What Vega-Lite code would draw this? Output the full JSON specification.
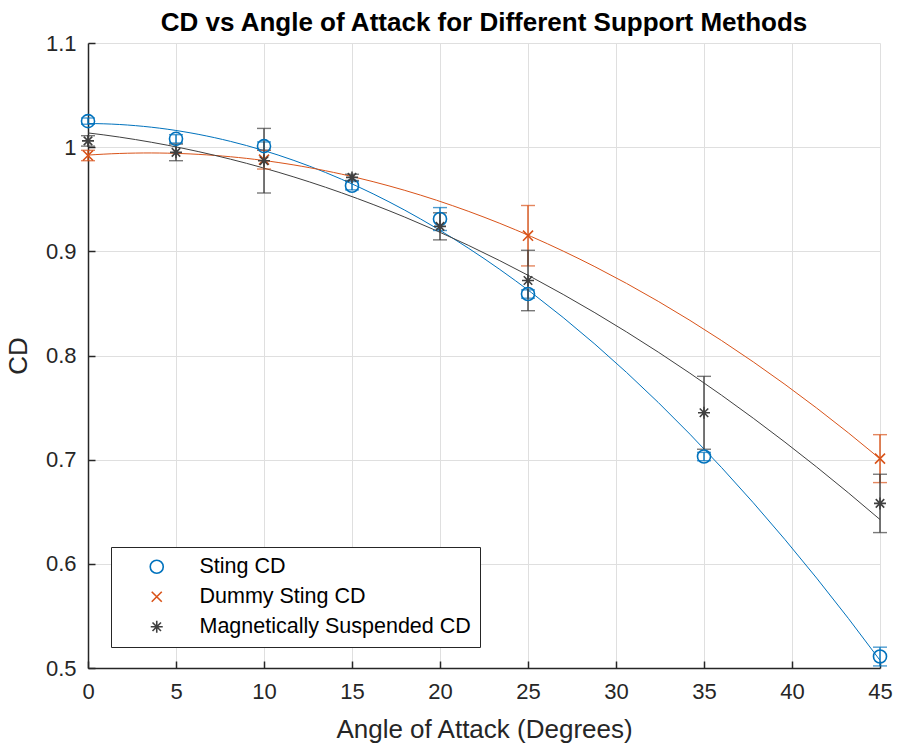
{
  "$schema": "https://vega.github.io/schema/vega-lite/v6.json",
  "width": 792,
  "height": 625,
  "autosize": {"type": "none"},
  "padding": {"left": 88, "top": 43, "right": 19, "bottom": 87},
  "background": "white",
  "title": {
    "text": "CD vs Angle of Attack for Different Support Methods",
    "font": "Liberation Sans",
    "fontSize": 26,
    "fontWeight": "bold",
    "color": "#000000",
    "offset": -4,
    "anchor": "middle"
  },
  "data": {
    "values": [
      {"series": "Sting CD", "aoa": 0, "cd": 1.025, "err": 0.003},
      {"series": "Sting CD", "aoa": 5, "cd": 1.008, "err": 0.004},
      {"series": "Sting CD", "aoa": 10, "cd": 1.001, "err": 0.004},
      {"series": "Sting CD", "aoa": 15, "cd": 0.963, "err": 0.004},
      {"series": "Sting CD", "aoa": 20, "cd": 0.931, "err": 0.011},
      {"series": "Sting CD", "aoa": 25, "cd": 0.859, "err": 0.004},
      {"series": "Sting CD", "aoa": 35, "cd": 0.703, "err": 0.004},
      {"series": "Sting CD", "aoa": 45, "cd": 0.511, "err": 0.009},
      {"series": "Dummy Sting CD", "aoa": 0, "cd": 0.992, "err": 0.005},
      {"series": "Dummy Sting CD", "aoa": 10, "cd": 0.988, "err": 0.009},
      {"series": "Dummy Sting CD", "aoa": 25, "cd": 0.915, "err": 0.029},
      {"series": "Dummy Sting CD", "aoa": 45, "cd": 0.701, "err": 0.023},
      {"series": "Magnetically Suspended CD", "aoa": 0, "cd": 1.006, "err": 0.005},
      {"series": "Magnetically Suspended CD", "aoa": 5, "cd": 0.995, "err": 0.008},
      {"series": "Magnetically Suspended CD", "aoa": 10, "cd": 0.987, "err": 0.031},
      {"series": "Magnetically Suspended CD", "aoa": 15, "cd": 0.971, "err": 0.003},
      {"series": "Magnetically Suspended CD", "aoa": 20, "cd": 0.924, "err": 0.013},
      {"series": "Magnetically Suspended CD", "aoa": 25, "cd": 0.872, "err": 0.029},
      {"series": "Magnetically Suspended CD", "aoa": 35, "cd": 0.745, "err": 0.035},
      {"series": "Magnetically Suspended CD", "aoa": 45, "cd": 0.658, "err": 0.028}
    ]
  },
  "encoding": {
    "x": {
      "field": "aoa", "type": "quantitative",
      "title": "Angle of Attack (Degrees)",
      "scale": {"domain": [0, 45], "nice": false, "zero": false},
      "axis": {
        "values": [0, 5, 10, 15, 20, 25, 30, 35, 40, 45],
        "format": "d"
      }
    },
    "y": {
      "field": "cd", "type": "quantitative",
      "title": "CD",
      "scale": {"domain": [0.5, 1.1], "nice": false, "zero": false},
      "axis": {
        "values": [0.5, 0.6, 0.7, 0.8, 0.9, 1.0, 1.1],
        "format": ".1~f"
      }
    }
  },
  "layer": [
    {
      "transform": [
        {"filter": "datum.series === 'Sting CD'"},
        {"regression": "cd", "on": "aoa", "method": "poly", "order": 2, "extent": [0, 45]}
      ],
      "mark": {"type": "line", "strokeWidth": 1, "color": "#0072BD", "clip": true},
      "encoding": {}
    },
    {
      "transform": [
        {"filter": "datum.series === 'Dummy Sting CD'"},
        {"regression": "cd", "on": "aoa", "method": "poly", "order": 2, "extent": [0, 45]}
      ],
      "mark": {"type": "line", "strokeWidth": 1, "color": "#D95319", "clip": true},
      "encoding": {}
    },
    {
      "transform": [
        {"filter": "datum.series === 'Magnetically Suspended CD'"},
        {"regression": "cd", "on": "aoa", "method": "poly", "order": 2, "extent": [0, 45]}
      ],
      "mark": {"type": "line", "strokeWidth": 1, "color": "#404040", "clip": true},
      "encoding": {}
    },
    {
      "transform": [{"filter": "datum.series === 'Sting CD'"}],
      "mark": {"type": "errorbar", "color": "#0072BD", "ticks": {"size": 14, "thickness": 1.4}, "rule": {"strokeWidth": 1.4}},
      "encoding": {"yError": {"field": "err"}}
    },
    {
      "transform": [{"filter": "datum.series === 'Dummy Sting CD'"}],
      "mark": {"type": "errorbar", "color": "#D95319", "ticks": {"size": 14, "thickness": 1.4}, "rule": {"strokeWidth": 1.4}},
      "encoding": {"yError": {"field": "err"}}
    },
    {
      "transform": [{"filter": "datum.series === 'Magnetically Suspended CD'"}],
      "mark": {"type": "errorbar", "color": "#404040", "ticks": {"size": 14, "thickness": 1.4}, "rule": {"strokeWidth": 1.4}},
      "encoding": {"yError": {"field": "err"}}
    },
    {
      "mark": {"type": "point", "filled": false, "strokeWidth": 1.6, "size": 170, "opacity": 1},
      "encoding": {
        "color": {
          "field": "series", "type": "nominal",
          "scale": {
            "domain": ["Sting CD", "Dummy Sting CD", "Magnetically Suspended CD"],
            "range": ["#0072BD", "#D95319", "#404040"]
          },
          "legend": {"title": null, "orient": "none", "legendX": 23, "legendY": 504}
        },
        "shape": {
          "field": "series", "type": "nominal",
          "scale": {
            "domain": ["Sting CD", "Dummy Sting CD", "Magnetically Suspended CD"],
            "range": [
              "circle",
              "M-0.77,-0.77L0.77,0.77M0.77,-0.77L-0.77,0.77",
              "M0,-0.92L0,0.92M-0.92,0L0.92,0M-0.65,-0.65L0.65,0.65M0.65,-0.65L-0.65,0.65"
            ]
          },
          "legend": {"title": null, "orient": "none", "legendX": 23, "legendY": 504}
        }
      }
    }
  ],
  "config": {
    "font": "Liberation Sans",
    "view": {"stroke": null},
    "axis": {
      "labelFont": "Liberation Sans",
      "titleFont": "Liberation Sans",
      "labelFontSize": 22,
      "titleFontSize": 26,
      "labelColor": "#262626",
      "titleColor": "#262626",
      "titleFontWeight": "normal",
      "labelFlush": false,
      "labelOverlap": false,
      "domainColor": "#262626",
      "domainWidth": 1.5,
      "tickColor": "#262626",
      "tickWidth": 1.5,
      "tickSize": -7,
      "gridColor": "#dfdfdf",
      "gridWidth": 1,
      "grid": true
    },
    "axisX": {"labelPadding": 20, "titlePadding": 14},
    "axisY": {"labelPadding": 19, "titlePadding": 14},
    "legend": {
      "labelFont": "Liberation Sans",
      "labelFontSize": 21.5,
      "labelColor": "#000000",
      "strokeColor": "#262626",
      "fillColor": "white",
      "padding": 9,
      "symbolOffset": 26,
      "labelOffset": 32,
      "rowPadding": 7,
      "symbolSize": 170,
      "symbolStrokeWidth": 1.6,
      "labelLimit": 400
    }
  }
}
